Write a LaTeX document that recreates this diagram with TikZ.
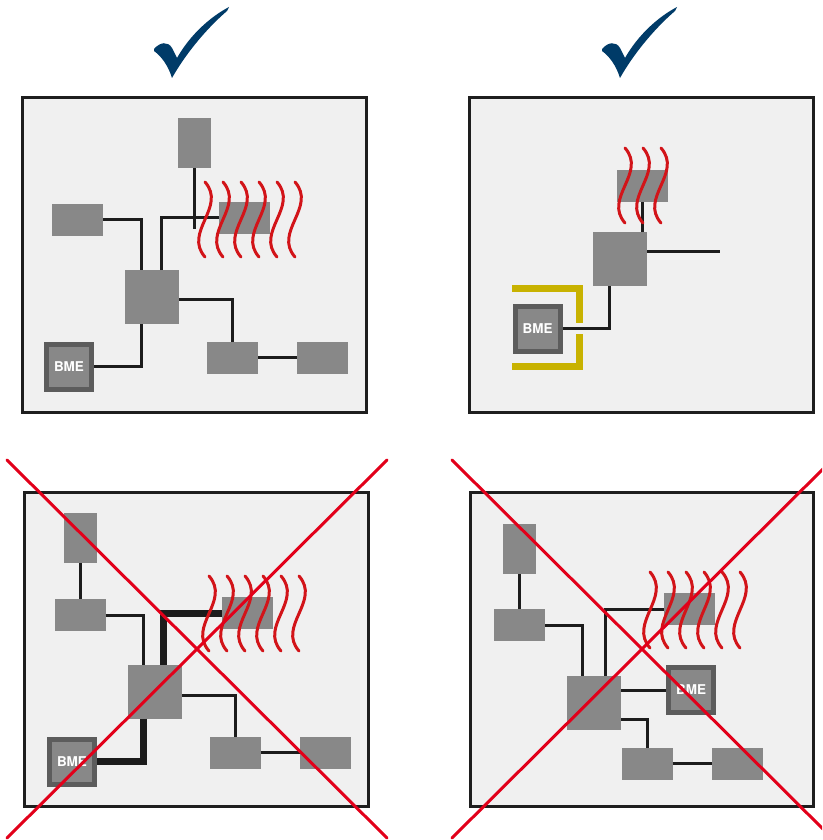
\documentclass[tikz,border=0pt]{standalone}
\usepackage{fontspec}
\setsansfont{TeX Gyre Heros}

\definecolor{panelgray}{RGB}{240,240,240}
\definecolor{framecol}{RGB}{30,30,30}
\definecolor{blockgray}{RGB}{136,136,136}
\definecolor{bmedark}{RGB}{92,92,92}
\definecolor{wirecol}{RGB}{28,28,28}
\definecolor{heatred}{RGB}{210,20,25}
\definecolor{crossred}{RGB}{226,0,26}
\definecolor{ticknavy}{RGB}{0,59,104}
\definecolor{shieldyellow}{RGB}{200,178,0}

\begin{document}
\begin{tikzpicture}[x=1pt,y=-1pt,
    panel/.style={draw=framecol,fill=panelgray,line width=3pt},
    blk/.style={fill=blockgray,inner sep=0pt,outer sep=0pt},
    wideblk/.style={blk,minimum width=51pt,minimum height=32pt},
    tallblk/.style={blk,minimum width=33pt,minimum height=50pt},
    chipblk/.style={blk,minimum size=54pt},
    bmeblk/.style={fill=blockgray,draw=bmedark,line width=5pt,minimum size=45pt,
      inner sep=0pt,outer sep=2.5pt,text=white,
      font=\sffamily\bfseries\fontsize{13.5}{14}\selectfont},
    wire/.style={draw=wirecol,line width=3pt},
    fatwire/.style={wire,line width=7pt},
    heat/.style={draw=heatred,line width=3pt,line cap=round},
    shield/.style={draw=shieldyellow,line width=7pt},
    xline/.style={draw=crossred,line width=3pt,line cap=round}]

  \useasboundingbox (0,0) rectangle (822,840);
  \clip (0,0) rectangle (822,840);

  % ticks
  \foreach \dx in {0,448} {
    \begin{scope}[xshift=\dx pt]
      \fill[ticknavy] (154,49) .. controls (160,42) and (168,41) .. (172,48)
        -- (177,58) .. controls (190,35) and (210,17) .. (229,7)
        -- (227,11) .. controls (205,30) and (185,55) .. (172,78)
        .. controls (168,65) and (161,56) .. (154,51) -- cycle;
    \end{scope}
  }

  % frames
  \draw[panel] (22.5,97.5) rectangle (366.5,412.5);
  \draw[panel] (469.5,97.5) rectangle (813.5,412.5);
  \draw[panel] (24.5,492.5) rectangle (368.5,806.5);
  \draw[panel] (470.5,492.5) rectangle (813.5,806.5);

  % top left: good
  \node[tallblk] (tlTop) at (194.5,143) {};
  \node[wideblk] (tlLeft) at (77.5,219.5) {};
  \node[wideblk] (tlHeat) at (244.5,217.5) {};
  \node[chipblk] (tlChip) at (152,297) {};
  \node[bmeblk] (tlBme) at (69,366.5) {BME};
  \node[wideblk] (tlMid) at (232.5,357.5) {};
  \node[wideblk] (tlRight) at (322.5,357.5) {};
  \coordinate (tlStub) at (194.5,229);

  \draw[wire] (tlTop.south) -- (tlStub);
  \draw[wire] (tlLeft.east) -| ([xshift=-11pt]tlChip.north);
  \draw[wire] ([xshift=9pt]tlChip.north) |- (tlHeat.west);
  \draw[wire] ([yshift=-2pt]tlChip.east) -| (tlMid.north);
  \draw[wire] ([xshift=-11pt]tlChip.south) |- (tlBme.east);
  \draw[wire] (tlMid.east) -- (tlRight.west);

  \foreach \wx in {205,223,241,259,277,295}
    \draw[heat] (\wx,182) .. controls +(22,25) and +(-22,-25) .. (\wx,257);

  % top right: good
  \node[wideblk] (trHeat) at (642,186) {};
  \node[chipblk] (trChip) at (620,259) {};
  \node[bmeblk] (trBme) at (537.5,328.5) {BME};
  \coordinate (trEnd) at (720,251);

  \draw[wire] (trHeat.south) -- (trHeat.south |- trChip.north);
  \draw[wire] ([yshift=8pt]trChip.east) -- (trEnd);
  \draw[wire] ([xshift=-11pt]trChip.south) |- (trBme.east);

  \draw[shield] (512,288) -- (579.5,288) -- (579.5,323);
  \draw[shield] (579.5,334) -- (579.5,366.5) -- (512,366.5);

  \foreach \wx in {625,643,661}
    \draw[heat] (\wx,148) .. controls +(22,25) and +(-22,-25) .. (\wx,223);

  % bottom left: bad
  \node[tallblk] (blTop) at (80,538) {};
  \node[wideblk] (blLeft) at (80,615) {};
  \node[wideblk] (blHeat) at (247.5,613) {};
  \node[chipblk] (blChip) at (155,691.5) {};
  \node[bmeblk] (blBme) at (72,761.5) {BME};
  \node[wideblk] (blMid) at (235,752.5) {};
  \node[wideblk] (blRight) at (325,752.5) {};

  \draw[wire] (blTop.south) -- (blLeft.north);
  \draw[wire] (blLeft.east) -| ([xshift=-12pt]blChip.north);
  \draw[fatwire] ([xshift=8pt]blChip.north) |- (blHeat.west);
  \draw[wire] ([yshift=-3.5pt]blChip.east) -| (blMid.north);
  \draw[fatwire] ([xshift=-12pt]blChip.south) |- (blBme.east);
  \draw[wire] (blMid.east) -- (blRight.west);

  \foreach \wx in {209,227,245,263,281,299}
    \draw[heat] (\wx,576) .. controls +(22,25) and +(-22,-25) .. (\wx,651);

  % bottom right: bad
  \node[tallblk] (brTop) at (519.5,549) {};
  \node[wideblk] (brLeft) at (519.5,625) {};
  \node[wideblk] (brHeat) at (689.5,609) {};
  \node[chipblk] (brChip) at (594,702.5) {};
  \node[bmeblk] (brBme) at (691,690) {BME};
  \node[wideblk] (brMid) at (647,763.5) {};
  \node[wideblk] (brRight) at (737,763.5) {};

  \draw[wire] (brTop.south) -- (brLeft.north);
  \draw[wire] (brLeft.east) -| ([xshift=-12pt]brChip.north);
  \draw[wire] ([xshift=11pt]brChip.north) |- (brHeat.west);
  \draw[wire] (brBme.west -| brChip.east) -- (brBme.west);
  \draw[wire] ([yshift=-16.5pt]brChip.east) -| (brMid.north);
  \draw[wire] (brMid.east) -- (brRight.west);

  \foreach \wx in {650,668,686,704,722,740}
    \draw[heat] (\wx,572) .. controls +(22,25) and +(-22,-25) .. (\wx,648);

  % crosses
  \draw[xline] (7,460) -- (387,838);
  \draw[xline] (387,460) -- (7,838);
  \draw[xline] (452,460) -- (832,838);
  \draw[xline] (832,460) -- (452,838);
\end{tikzpicture}
\end{document}
